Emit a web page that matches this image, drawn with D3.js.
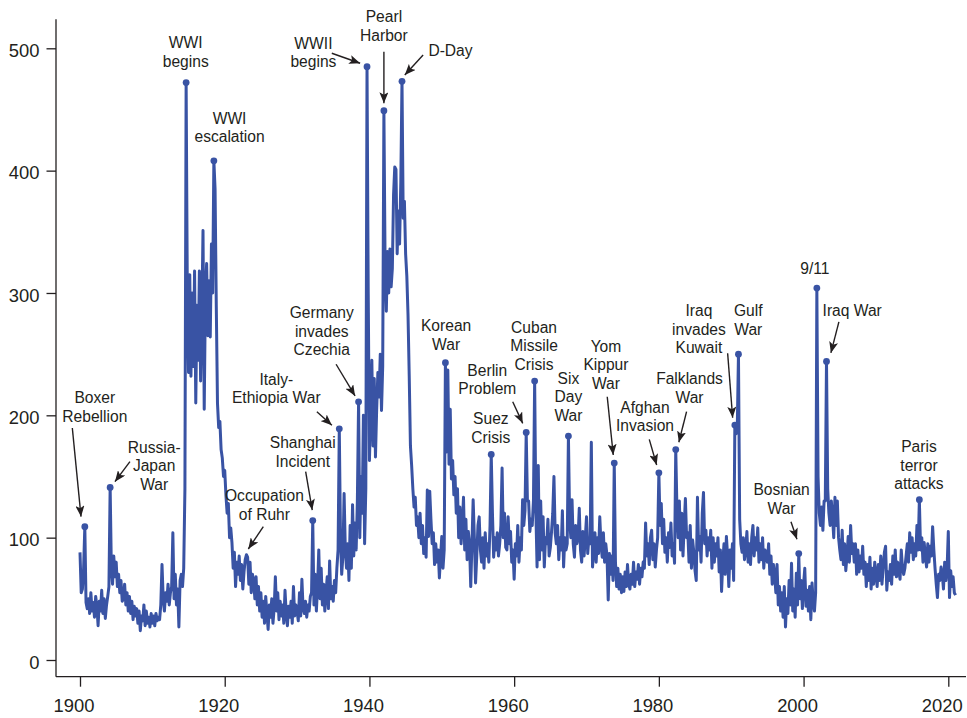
<!DOCTYPE html>
<html><head><meta charset="utf-8">
<script src="https://cdn.jsdelivr.net/npm/d3@7"></script>
<style>
html,body{margin:0;padding:0;background:#fff;}
svg{display:block;font-family:"Liberation Sans",Arial,Helvetica,sans-serif;}
</style></head><body>
<svg id="chart" width="967" height="718"></svg>
<script>
// ---- data (index values, 6 readings per year, starting Jan 1900) ----
const startYear = 1900;
const perYear = 6;
const gpr1900s = [
 88, 55, 58, 75, 109, 47,
 42, 50, 38, 55, 40, 47,
 35, 52, 44, 28, 48, 40,
 57, 38, 50, 34, 45, 52,
 60, 141, 75, 62, 85, 68,
 80, 60, 70, 55, 65, 48,
 50, 62, 45, 55, 40, 52,
 38, 48, 33, 44, 36, 42,
 30, 40, 24, 36, 32, 45,
 28, 40, 30, 35, 27, 38];
const gpr1910s = [
 30, 36, 28, 38, 32, 35,
 33, 45, 78, 50, 40, 55,
 48, 62, 45, 55, 60, 104,
 50, 70, 45, 58, 27, 65,
 70, 60, 75, 140, 472, 300,
 235, 315, 232, 300, 240, 318,
 210, 290, 245, 318, 228, 280,
 351, 205, 300, 324, 265, 310,
 264, 340, 300, 408, 385, 290,
 210, 190, 195, 172, 165, 150];
const gpr1920s = [
 155, 135, 120, 128, 100, 108,
 96, 75, 88, 60, 80, 70,
 85, 65, 78, 58, 72, 82,
 86, 84, 62, 80, 55, 70,
 65, 50, 68, 45, 60, 40,
 55, 35, 48, 30, 52, 38,
 25, 45, 35, 50, 30, 42,
 68, 40, 55, 33, 48, 36,
 45, 30, 57, 38, 28, 44,
 35, 48, 30, 60, 36, 45];
const gpr1930s = [
 40, 32, 55, 36, 66, 42,
 38, 48, 35, 45, 40, 52,
 55, 114, 45, 70, 40, 60,
 90, 50, 75, 45, 62, 40,
 55, 68, 42, 81, 50, 60,
 48, 65, 55, 75, 90, 189,
 100, 70, 85, 136, 90, 75,
 95, 65, 110, 75, 127, 85,
 112, 90, 130, 211, 100, 150,
 120, 200, 95, 140, 485, 300];
const gpr1940s = [
 163, 200, 245, 175, 230, 166,
 205, 235, 215, 250, 204, 240,
 449, 320, 285, 334, 300, 336,
 305, 320, 380, 403, 401, 332,
 367, 340, 390, 473, 361, 375,
 332, 314, 282, 232, 175, 159,
 140, 125, 133, 110, 117, 100,
 120, 95, 110, 87, 100, 84,
 139, 101, 138, 115, 95, 104,
 78, 95, 80, 90, 67, 85];
const gpr1950s = [
 101, 75, 90, 243, 170, 237,
 160, 205, 148, 163, 135, 150,
 120, 140, 100, 125, 95, 110,
 133, 90, 115, 82, 105, 95,
 60, 95, 131, 100, 63, 85,
 110, 117, 90, 80, 100, 75,
 104, 85, 95, 80, 110, 168,
 120, 84, 100, 90, 104, 85,
 95, 110, 157, 100, 120, 92,
 90, 117, 95, 105, 80, 90];
const gpr1960s = [
 66, 95, 85, 110, 80, 100,
 90, 131, 110, 122, 186, 130,
 130, 105, 115, 110, 130, 228,
 122, 76, 159, 82, 130, 90,
 117, 76, 100, 95, 115, 85,
 92, 105, 120, 150, 104, 95,
 110, 82, 100, 90, 122, 76,
 100, 90, 95, 183, 115, 100,
 131, 95, 84, 110, 95, 100,
 124, 90, 80, 105, 85, 100];
const gpr1970s = [
 117, 87, 100, 95, 178, 76,
 90, 104, 80, 100, 87, 117,
 95, 84, 104, 80, 95, 85,
 49, 87, 70, 85, 65, 161,
 80, 60, 75, 58, 70, 55,
 68, 56, 72, 60, 78, 62,
 58, 70, 62, 80, 60, 72,
 66, 78, 62, 75, 68, 80,
 75, 112, 85, 95, 78, 100,
 106, 82, 95, 76, 90, 100];
const gpr1980s = [
 153, 110, 128, 95, 115, 88,
 100, 80, 104, 92, 112, 85,
 95, 79, 172, 123, 100, 130,
 90, 120, 85, 110, 132, 100,
 104, 80, 110, 75, 98, 88,
 73, 65, 133, 90, 101, 80,
 120, 137, 95, 106, 85, 100,
 90, 106, 75, 100, 80, 95,
 85, 100, 72, 90, 56, 80,
 95, 70, 101, 85, 60, 90];
const gpr1990s = [
 75, 95, 65, 192, 185, 188,
 250, 115, 95, 88, 100, 82,
 90, 105, 80, 95, 78, 100,
 110, 85, 100, 90, 108, 80,
 95, 82, 100, 75, 90, 85,
 80, 95, 70, 85, 62, 78,
 70, 55, 78, 45, 60, 40,
 55, 35, 60, 27, 50, 38,
 65, 45, 79, 40, 58, 35,
 71, 45, 87, 50, 65, 42];
const gpr2000s = [
 62, 75, 44, 57, 40, 60,
 33, 63, 48, 40, 55, 304,
 150, 120, 110, 125, 106, 130,
 130, 244, 140, 120, 110, 130,
 117, 100, 133, 110, 130, 100,
 90, 82, 106, 78, 95, 73,
 85, 101, 80, 110, 87, 95,
 80, 95, 70, 90, 72, 85,
 75, 93, 70, 80, 60, 78,
 65, 84, 58, 75, 62, 80];
const gpr2010s = [
 70, 60, 78, 65, 85, 62,
 75, 88, 93, 57, 72, 65,
 78, 62, 85, 70, 90, 68,
 80, 72, 66, 90, 75, 70,
 75, 85, 95, 80, 104, 88,
 100, 82, 95, 85, 110, 90,
 131, 90, 100, 80, 96, 85,
 76, 95, 80, 93, 85, 109,
 90, 75, 62, 51, 70, 65,
 76, 70, 58, 80, 65, 75];
const gpr2020s = [105, 51, 73, 60, 68, 55, 53];

const yTicks = [0, 100, 200, 300, 400, 500];
const xTicks = [1900, 1920, 1940, 1960, 1980, 2000, 2020];

// annotated events: label lines and date (year + fraction)
const events = [
 {id:"boxer",   lines:["Boxer","Rebellion"],            date:1900 + 4/6},
 {id:"rj",      lines:["Russia-","Japan","War"],         date:1904 + 1/6},
 {id:"wwi",     lines:["WWI","begins"],                  date:1914 + 4/6},
 {id:"wwiesc",  lines:["WWI","escalation"],              date:1918 + 3/6},
 {id:"ruhr",    lines:["Occupation","of Ruhr"],          date:1923, noDot:true},
 {id:"shanghai",lines:["Shanghai","Incident"],           date:1932 + 1/6},
 {id:"italy",   lines:["Italy-","Ethiopia War"],         date:1935 + 5/6},
 {id:"czech",   lines:["Germany","invades","Czechia"],   date:1938 + 3/6},
 {id:"wwii",    lines:["WWII","begins"],                 date:1939 + 4/6},
 {id:"pearl",   lines:["Pearl","Harbor"],                date:1942},
 {id:"dday",    lines:["D-Day"],                         date:1944 + 3/6},
 {id:"korea",   lines:["Korean","War"],                  date:1950 + 3/6},
 {id:"suez",    lines:["Suez","Crisis"],                 date:1956 + 5/6},
 {id:"berlin",  lines:["Berlin","Problem"],              date:1961 + 4/6},
 {id:"cuba",    lines:["Cuban","Missile","Crisis"],      date:1962 + 5/6},
 {id:"sixday",  lines:["Six","Day","War"],               date:1967 + 3/6},
 {id:"yom",     lines:["Yom","Kippur","War"],            date:1973 + 5/6},
 {id:"afghan",  lines:["Afghan","Invasion"],             date:1980},
 {id:"falk",    lines:["Falklands","War"],               date:1982 + 2/6},
 {id:"kuwait",  lines:["Iraq","invades","Kuwait"],       date:1990 + 3/6},
 {id:"gulf",    lines:["Gulf","War"],                    date:1991},
 {id:"911",     lines:["9/11"],                          date:2001 + 5/6},
 {id:"iraq",    lines:["Iraq War"],                      date:2003 + 1/6},
 {id:"bosnia",  lines:["Bosnian","War"],                 date:1999 + 2/6},
 {id:"paris",   lines:["Paris","terror","attacks"],      date:2016}
];

// ---- layout (pixel offsets of label centre / arrow from the event point) ----
const layout = {
 boxer:   {dx:10,   dy:-129,  arrow:[-12.5,-98.7,-3.8,-10]},
 rj:      {dx:44,   dy:-40.5, arrow:[19.8,-25.8,4.8,-5.8]},
 wwi:     {dx:-0.4, dy:-40},
 wwiesc:  {dx:15.7, dy:-42.6},
 ruhr:    {dx:18,   dy:-59,   arrow:[16.9,-28.1,1.9,-5.8]},
 shanghai:{dx:-10,  dy:-77.8, arrow:[-7.1,-48.8,-0.5,-10.5]},
 italy:   {dx:-63,  dy:-49.5, arrow:[-22.4,-17.1,-7.4,-3.5]},
 czech:   {dx:-36.8,dy:-89.2, arrow:[-22.5,-37.6,-3.5,-5.9]},
 wwii:    {dx:-53.6,dy:-23.4, arrow:[-35.2,-13.4,-6.9,-3.4]},
 pearl:   {dx:0,    dy:-94,   arrow:[0,-59,0,-7.4]},
 dday:    {dx:48.5, dy:-31.3, arrow:[21.1,-26.3,2.8,-6.3]},
 korea:   {dx:0.7,  dy:-37},
 suez:    {dx:-0.4, dy:-35.5},
 berlin:  {dx:-38.9,dy:-62.4, arrow:[-13.5,-30.7,-3.5,-9.1]},
 cuba:    {dx:-0.6, dy:-53.8},
 sixday:  {dx:0,    dy:-57.8},
 yom:     {dx:-8.3, dy:-117,  arrow:[-7,-66.3,-1,-8]},
 afghan:  {dx:-13.9,dy:-65.5, arrow:[-9.6,-33.5,-2.2,-7.8]},
 falk:    {dx:13.8, dy:-70.6, arrow:[10.8,-37.9,3.1,-7.3]},
 kuwait:  {dx:-35.9,dy:-114.4,arrow:[-7.2,-71.8,-2.2,-7.4]},
 gulf:    {dx:9.8,  dy:-43.5},
 "911":   {dx:-1.9, dy:-20},
 iraq:    {dx:25.7, dy:-51.3, arrow:[12.4,-39.6,4.4,-8.6]},
 bosnia:  {dx:-17.2,dy:-63.6, arrow:[-7.8,-31.9,-1.8,-14.3]},
 paris:   {dx:-0.4, dy:-53}
};

const values = [].concat(gpr1900s, gpr1910s, gpr1920s, gpr1930s, gpr1940s,
  gpr1950s, gpr1960s, gpr1970s, gpr1980s, gpr1990s, gpr2000s, gpr2010s, gpr2020s);
const series = values.map((v, i) => ({date: startYear + i / perYear, value: v}));

// ---- drawing ----
const LINE = "#3953a4", INK = "#231f20";
const svg = d3.select("#chart");
const x = d3.scaleLinear().domain([1900, 2020]).range([80, 948.3]);
const y = d3.scaleLinear().domain([0, 500]).range([660, 48.3]);

const defs = svg.append("defs");
defs.append("marker").attr("id", "arr")
  .attr("markerUnits", "userSpaceOnUse")
  .attr("markerWidth", 12).attr("markerHeight", 9)
  .attr("refX", 11).attr("refY", 4.5).attr("orient", "auto")
  .append("path").attr("d", "M0,0 L11,4.5 L0,9 L2.5,4.5 Z").attr("fill", INK);

// axes
const axisLeftX = 56, axisBottomY = 676.7;
const gy = svg.append("g").attr("transform", `translate(${axisLeftX},0)`)
  .call(d3.axisLeft(y).tickValues(yTicks).tickSize(9.5).tickSizeOuter(0).tickPadding(7));
const gx = svg.append("g").attr("transform", `translate(0,${axisBottomY})`)
  .call(d3.axisBottom(x).tickValues(xTicks).tickFormat(d3.format("d")).tickSize(10).tickSizeOuter(0).tickPadding(12));
[gy, gx].forEach(g => {
  g.select(".domain").remove();
  g.selectAll(".tick line").attr("stroke", INK).attr("stroke-width", 1.3);
  g.selectAll(".tick text").attr("fill", INK).style("font-size", "18.4px")
    .style("font-family", '"Liberation Sans",Arial,sans-serif');
});
gy.selectAll(".tick text").attr("dy", "0.45em");
gx.selectAll(".tick text").attr("dx", -6.5);
svg.append("line").attr("x1", axisLeftX).attr("x2", axisLeftX).attr("y1", 19.3).attr("y2", axisBottomY)
  .attr("stroke", INK).attr("stroke-width", 1.3);
svg.append("line").attr("x1", axisLeftX).attr("x2", 966).attr("y1", axisBottomY).attr("y2", axisBottomY)
  .attr("stroke", INK).attr("stroke-width", 1.3);

// series line
svg.append("path").datum(series)
  .attr("fill", "none").attr("stroke", LINE).attr("stroke-width", 3)
  .attr("stroke-linejoin", "round")
  .attr("d", d3.line().x(d => x(d.date)).y(d => y(d.value)));

// annotations
const ann = svg.append("g");
events.forEach(ev => {
  const idx = Math.round((ev.date - startYear) * perYear);
  const pt = series[idx];
  const px = x(pt.date), py = y(pt.value);
  const L = layout[ev.id];
  if (!ev.noDot) {
    ann.append("circle").attr("cx", px).attr("cy", py).attr("r", 3.4).attr("fill", LINE);
  }
  const t = ann.append("text").attr("text-anchor", "middle").attr("fill", INK)
    .style("font-size", "15.6px");
  ev.lines.forEach((ln, i) => {
    t.append("tspan").attr("x", px + L.dx).attr("y", py + L.dy + 5.5 + i * 18.5).text(ln);
  });
  if (L.arrow) {
    ann.append("line")
      .attr("x1", px + L.arrow[0]).attr("y1", py + L.arrow[1])
      .attr("x2", px + L.arrow[2]).attr("y2", py + L.arrow[3])
      .attr("stroke", INK).attr("stroke-width", 1.4).attr("marker-end", "url(#arr)");
  }
});
</script>
</body></html>
